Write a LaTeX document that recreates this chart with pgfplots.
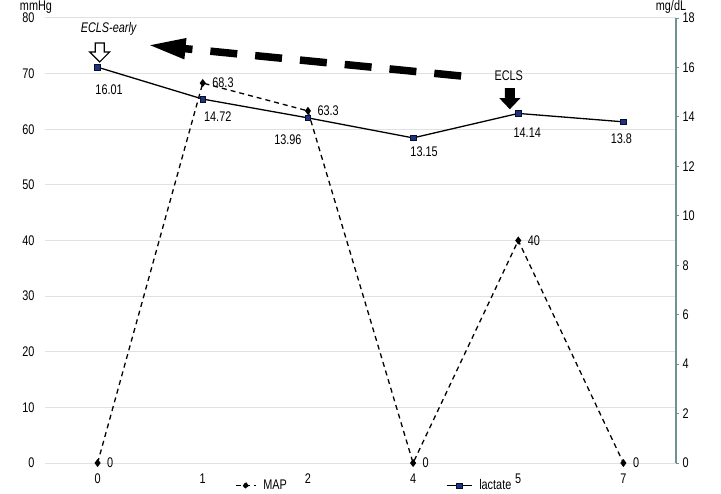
\documentclass[border=0pt]{standalone}
\usepackage{pgfplots}
\pgfplotsset{compat=1.18}
\usepackage{pgfplotstable}
\usepackage{fontspec}
\setmainfont{Liberation Sans}[FakeStretch=0.78]
\usetikzlibrary{arrows.meta}

\definecolor{gridgray}{RGB}{225,225,225}
\definecolor{axisteal}{RGB}{110,145,150}
\definecolor{lacblue}{RGB}{30,50,130}

% mean arterial pressure (mmHg), categories 0,1,2,4,5,7 placed at 0..5
\pgfplotstableread{
x map
0 0
1 68.3
2 63.3
3 0
4 40
5 0
}\maptable

% lactate (mg/dL) with label offsets in bp
\pgfplotstableread{
x lac dx dy
0 16.01 11.5 -23
1 14.72 15 -18
2 13.96 -20 -22
3 13.15 11 -14
4 14.14 9 -19
5 13.8 -2 -17
}\lactable

\newcommand{\lblfont}{\fontsize{14}{16}\selectfont}

\pgfplotsset{
  maplegend/.style={legend image code/.code={
    \draw[black, line width=1.3bp, dash pattern=on 5bp off 4bp] (0bp,0bp) -- (20bp,0bp);
    \fill[black] (10bp,0bp) +(0bp,3bp) -- +(2.2bp,0bp) -- +(0bp,-3bp) -- +(-2.2bp,0bp) -- cycle;}},
  laclegend/.style={legend image code/.code={
    \draw[black, line width=1.3bp] (0bp,0bp) -- (25bp,0bp);
    \filldraw[fill=lacblue, draw=black!70!lacblue, line width=0.6bp]
      (12.5bp,0bp) +(-2.8bp,-2.8bp) rectangle +(2.8bp,2.8bp);}},
}

\begin{document}
\begin{tikzpicture}[font=\lblfont]
\begin{axis}[
  scale only axis, width=631bp, height=445bp,
  xmin=-0.5, xmax=5.5, ymin=0, ymax=80,
  xtick={0,...,5}, xticklabels={0,1,2,4,5,7},
  ytick={0,10,...,80},
  axis line style={draw=none},
  tick style={draw=none},
  ymajorgrids, grid style={gridgray, line width=1bp},
  /pgf/number format/assume math mode=true,
  ticklabel style={font=\lblfont},
  yticklabel style={xshift=-7bp},
  xticklabel style={yshift=-7bp},
  clip=false,
  legend columns=2,
  legend style={draw=none, fill=none, inner sep=0pt, font=\lblfont,
    at={(0.301,-0.051)}, anchor=west,
    /tikz/every odd column/.append style={column sep=5bp},
    /tikz/every even column/.append style={column sep=157bp}},
]
\coordinate (SW) at (rel axis cs:0,0);
\coordinate (NE) at (rel axis cs:1,1);

\addplot[black, line width=1.3bp, dash pattern=on 5bp off 4bp,
  mark=diamond*, mark size=3bp, mark options={solid},
  nodes near coords, point meta=explicit,
  nodes near coords style={anchor=west, inner sep=0pt, xshift=9bp, font=\lblfont},
  maplegend
] table[x=x, y=map, meta=map] {\maptable};

\addlegendimage{laclegend}

\legend{MAP, lactate}

% annotations
\node[font=\lblfont\itshape] at (axis cs:0.105,78.0) {ECLS-early};
\draw[black, fill=white, line width=1.2bp, line join=miter]
  (axis cs:0.02,72.1) -- ++(-10bp,10bp) -- ++(5.5bp,0bp) -- ++(0bp,9bp)
  -- ++(9bp,0bp) -- ++(0bp,-9bp) -- ++(5.5bp,0bp) -- cycle;
\draw[black, line width=7.5bp, dash pattern=on 27bp off 18bp,
  -{Triangle[length=38bp, width=19bp]}]
  (axis cs:3.457,69.57) -- (axis cs:0.476,75.15);
\node at (axis cs:3.91,69.6) {ECLS};
\fill[black]
  (axis cs:3.92,63.6) -- ++(-10.5bp,11bp) -- ++(5.5bp,0bp) -- ++(0bp,10bp)
  -- ++(10bp,0bp) -- ++(0bp,-10bp) -- ++(5.5bp,0bp) -- cycle;

\node at (rel axis cs:0,1) [xshift=-9bp, yshift=11bp] {mmHg};
\node at (rel axis cs:1,1) [xshift=-5bp, yshift=11bp] {mg/dL};
\end{axis}

\begin{axis}[
  scale only axis, width=631bp, height=445bp,
  xmin=-0.5, xmax=5.5, ymin=0, ymax=18,
  ytick={0,2,...,18},
  axis x line=none, axis y line*=right,
  y axis line style={axisteal, line width=1.3bp},
  ytick style={axisteal, line width=0.8bp},
  major tick length=3bp, tick align=outside,
  /pgf/number format/assume math mode=true,
  ticklabel style={font=\lblfont},
  clip=false,
]
\addplot[black, line width=1.3bp, mark=square*, mark size=2.8bp,
  mark options={fill=lacblue, draw=black!70!lacblue, line width=0.6bp},
  nodes near coords, point meta=explicit,
  visualization depends on={\thisrow{dx} \as \dx},
  visualization depends on={\thisrow{dy} \as \dy},
  nodes near coords style={anchor=center, inner sep=0pt, font=\lblfont,
    xshift=\dx bp, yshift=\dy bp}
] table[x=x, y=lac, meta=lac] {\lactable};
\end{axis}

\pgfresetboundingbox
\path[use as bounding box] ([shift={(-45bp,-31bp)}]SW) rectangle ([shift={(45bp,18bp)}]NE);
\end{tikzpicture}
\end{document}
